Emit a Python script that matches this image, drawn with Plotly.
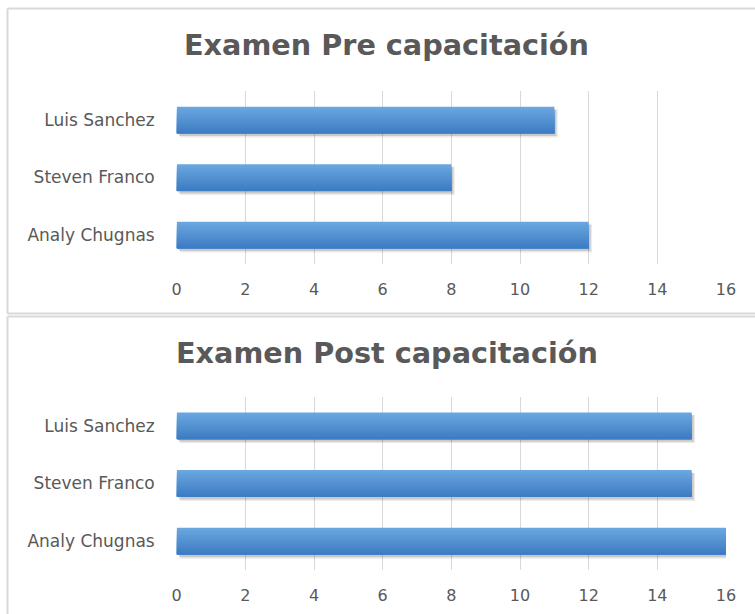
import plotly.graph_objects as go

# Participantes (de abajo hacia arriba) y notas de cada examen
nombres = ["Analy Chugnas", "Steven Franco", "Luis Sanchez"]
notas_pre = [12, 8, 11]
notas_post = [16, 15, 15]
marcas_x = [0, 2, 4, 6, 8, 10, 12, 14, 16]
titulos = ["Examen Pre capacitación", "Examen Post capacitación"]

W, H = 755, 614
TEXTO = "#595959"
REJILLA = "#d9d9d9"
BORDE = "#d9d9d9"
GROSOR = 0.46          # grosor de la barra en unidades de categoría
TONO_ARRIBA = (106, 166, 223)
TONO_ABAJO = (62, 125, 196)
CAPAS = 14


def mezcla(t):
    c = [round(a + (b - a) * t) for a, b in zip(TONO_ARRIBA, TONO_ABAJO)]
    return f"rgb({c[0]},{c[1]},{c[2]})"


def barras(fig, valores, xa, ya):
    # sombra difusa por debajo y a la derecha
    for desp, base, alfa, extra in [(0.075, 0.10, 0.08, 0.03), (0.05, 0.06, 0.14, 0.0)]:
        fig.add_trace(go.Bar(
            x=valores, y=nombres, orientation="h", base=base,
            offset=-GROSOR / 2 - desp, width=GROSOR + extra,
            marker=dict(color=f"rgba(0,0,0,{alfa})", line=dict(width=0)),
            xaxis=xa, yaxis=ya, hoverinfo="skip", showlegend=False))
    # degradado vertical: capas apiladas desde el borde inferior
    for k in range(CAPAS):
        fig.add_trace(go.Bar(
            x=valores, y=nombres, orientation="h",
            offset=-GROSOR / 2, width=GROSOR * (CAPAS - k) / CAPAS,
            marker=dict(color=mezcla(k / (CAPAS - 1)), line=dict(width=0)),
            xaxis=xa, yaxis=ya, showlegend=False,
            hovertemplate="%{y}: %{x}<extra></extra>"))


fig = go.Figure()
barras(fig, notas_pre, "x", "y")
barras(fig, notas_post, "x2", "y2")

dom_x = [176.7 / W, 726.0 / W]
eje_x = dict(
    range=[0, 16], tickvals=marcas_x, showgrid=True, gridcolor=REJILLA,
    gridwidth=1, zeroline=False, showline=False, ticks="",
    ticklabelstandoff=14, fixedrange=True, automargin=False,
    tickfont=dict(family="DejaVu Sans", size=16, color=TEXTO))
eje_y = dict(
    range=[-0.5, 2.5], showgrid=False, zeroline=False, showline=False,
    ticks="", ticklabelstandoff=21, fixedrange=True, automargin=False,
    tickfont=dict(family="DejaVu Sans", size=17, color=TEXTO))

fig.update_layout(
    width=W, height=H, margin=dict(l=0, r=0, t=0, b=0, autoexpand=False),
    paper_bgcolor="white", plot_bgcolor="white",
    barmode="overlay", showlegend=False,
    xaxis=dict(eje_x, domain=dom_x, anchor="y"),
    yaxis=dict(eje_y, domain=[1 - 263.75 / H, 1 - 91.25 / H], anchor="x"),
    xaxis2=dict(eje_x, domain=dom_x, anchor="y2"),
    yaxis2=dict(eje_y, domain=[1 - 569.9 / H, 1 - 396.8 / H], anchor="x2"),
)

# títulos de cada gráfico
for texto, yc in zip(titulos, [45, 353]):
    fig.add_annotation(
        text=texto, xref="paper", yref="paper", x=386.5 / W, y=1 - yc / H,
        xanchor="center", yanchor="middle", showarrow=False,
        font=dict(family="DejaVu Sans", size=28.7, color=TEXTO, weight="bold"))

# marcos de ambos gráficos
def linea(x0, y0, x1, y1):
    fig.add_shape(type="line", xref="paper", yref="paper",
                  x0=x0 / W, y0=1 - y0 / H, x1=x1 / W, y1=1 - y1 / H,
                  line=dict(color=BORDE, width=2), layer="below")

linea(7.5, 8.5, W + 5, 8.5)
linea(7.5, 8.5, 7.5, 313.5)
linea(7.5, 313.5, W + 5, 313.5)
linea(7.5, 316.5, W + 5, 316.5)
linea(7.5, 316.5, 7.5, H + 5)

fig.write_html("out.html")
